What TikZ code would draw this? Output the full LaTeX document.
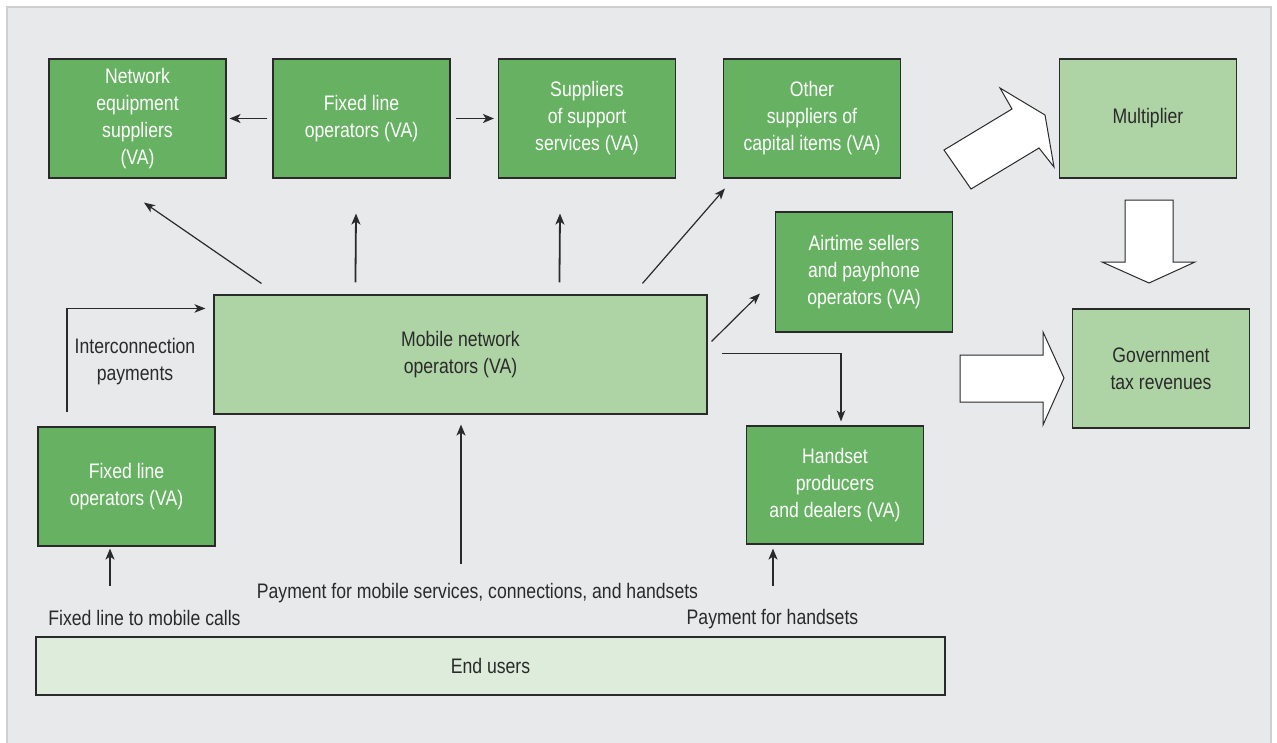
\documentclass[tikz,border=0pt]{standalone}
\usepackage{fontspec}
\setmainfont{Liberation Sans}[FakeStretch=0.84]
\usetikzlibrary{arrows.meta,calc}
\definecolor{bgpanel}{HTML}{E8E9EB}
\definecolor{panelline}{HTML}{CFCFD1}
\definecolor{dkgreen}{HTML}{66B262}
\definecolor{ltgreen}{HTML}{AED4A6}
\definecolor{vltgreen}{HTML}{DEECDB}
\definecolor{ink}{HTML}{2A2A2A}
\tikzset{
  boxbase/.style={draw=ink, line width=1.1pt, rectangle, align=center,
    font=\fontsize{21}{27}\selectfont, inner sep=2pt},
  dkbox/.style={boxbase, fill=dkgreen, text=white, minimum width=177pt, minimum height=119pt},
  ltbox/.style={boxbase, fill=ltgreen, text=ink, minimum width=177pt, minimum height=119pt},
  lbl/.style={text=ink, align=center, font=\fontsize{21}{27}\selectfont, inner sep=0pt},
  arr/.style={draw=ink, line width=1.8pt, -{Stealth[length=11pt,width=9pt,inset=3pt]}},
  thinarr/.style={draw=ink, line width=1.2pt, -{Stealth[length=11pt,width=8.5pt,inset=3pt]}},
  blockarrow/.style={draw=ink, line width=1pt, fill=white, line join=miter}
}
\begin{document}
\begin{tikzpicture}[x=1pt,y=-1pt]
\useasboundingbox (0,0) rectangle (1277,742);
\fill[white] (0,0) rectangle (1277,742);
\draw[panelline, fill=bgpanel, line width=1.5pt] (7,7) rectangle (1271,746);

% top row
\node[dkbox] (net) at (137.5,118.5) {Network\\equipment\\suppliers\\(VA)};
\node[dkbox] (fixtop) at (361.5,118.5) {Fixed line\\operators (VA)};
\node[dkbox] (supp) at (587,118.5) {Suppliers\\of support\\services (VA)};
\node[dkbox] (other) at (812,118.5) {Other\\suppliers of\\capital items (VA)};
\node[ltbox] (mult) at (1148,118.5) {Multiplier};

% middle
\node[dkbox, minimum height=120pt] (air) at (864,272) {Airtime sellers\\and payphone\\operators (VA)};
\node[ltbox, minimum width=493pt] (mno) at (460.5,354.5) {Mobile network\\operators (VA)};
\node[ltbox] (gov) at (1161,368.5) {Government\\tax revenues};

% lower
\node[dkbox] (fixlow) at (126.5,486.5) {Fixed line\\operators (VA)};
\node[dkbox, minimum height=118pt] (hand) at (835,485) {Handset\\producers\\and dealers (VA)};
\node[boxbase, fill=vltgreen, text=ink, minimum width=909pt, minimum height=58pt] (end) at (490.5,666) {End users};

% labels
\node[lbl] (interlbl) at (135,362) {Interconnection\\payments};
\node[lbl] (fixcalls) at (144.5,618) {Fixed line to mobile calls};
\node[lbl] (paymob) at (477.5,593) {Payment for mobile services, connections, and handsets};
\node[lbl] (payhand) at (772.5,619) {Payment for handsets};

% connectors top
\draw[arr] ([xshift=-5pt]fixtop.west) -- ([xshift=3pt]net.east);
\draw[arr] ([xshift=5pt]fixtop.east) -- ([xshift=-4pt]supp.west);
\draw[thinarr] ([shift={(48,-11)}]mno.north west) -- ([shift={(6.5,24)}]net.south);
\draw[arr] ([shift={(142,-12)}]mno.north west) -- ([shift={(-5.5,35)}]fixtop.south);
\draw[arr] ([shift={(346,-12)}]mno.north west) -- ([shift={(-27,35)}]supp.south);
\draw[thinarr] ([shift={(429,-11)}]mno.north west) -- ([shift={(2,10)}]other.south west);
\draw[thinarr] ([shift={(4,47)}]mno.north east) -- ([shift={(-15,-39)}]air.south west);
\draw[thinarr] ([shift={(14,59)}]mno.north east) -| ([shift={(6,-4)}]hand.north);
\draw[thinarr] ([shift={(-59.5,-14)}]fixlow.north) |- ([shift={(-8,14)}]mno.north west);

% connectors bottom
\draw[arr] ([shift={(-16.5,39)}]fixlow.south) -- ([shift={(-16.5,2)}]fixlow.south);
\draw[arr] ([shift={(0.5,149)}]mno.south) -- ([shift={(0.5,10)}]mno.south);
\draw[arr] ([shift={(-62,41)}]hand.south) -- ([shift={(-62,4)}]hand.south);

% block arrows
\draw[blockarrow] (944,150) -- (971,189) -- (1039,148) -- (1054,167) -- (1045,115) -- (1000,88) -- (1012,109) -- cycle;
\draw[blockarrow] (1125,200) -- (1173,200) -- (1173,262) -- (1195,262) -- (1149,283) -- (1102,262) -- (1125,262) -- cycle;
\draw[blockarrow] (960,355) -- (1043,355) -- (1043,332) -- (1064,378) -- (1043,425) -- (1043,402) -- (960,402) -- cycle;
\end{tikzpicture}
\end{document}
